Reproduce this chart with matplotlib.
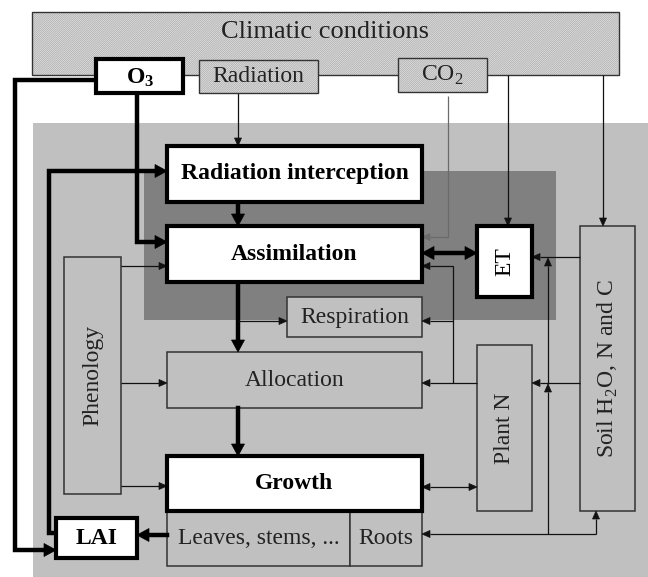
"""Crop-model flow diagram: climate drivers, O3 and the plant carbon/N loop."""
import numpy as np
import matplotlib
matplotlib.use("Agg")
import matplotlib.pyplot as plt
from matplotlib.patches import Rectangle, Polygon

plt.rcParams["font.family"] = ["Liberation Serif", "DejaVu Serif"]
plt.rcParams["mathtext.fontset"] = "custom"
plt.rcParams["mathtext.rm"] = "Liberation Serif"
plt.rcParams["mathtext.bf"] = "Liberation Serif:bold"
plt.rcParams["hatch.linewidth"] = 0.5

W, H = 648, 577

# boxes: name -> (x0, y0, x1, y1) in pixel units (y down)
BOXES = {
    "climate": (32, 12, 619, 75),
    "o3": (96, 59, 183, 93),
    "radiation": (199, 60, 318, 93),
    "co2": (398, 58, 487, 92),
    "ri": (167, 146, 422, 202),
    "assim": (167, 226, 422, 282),
    "et": (477, 226, 532, 297),
    "soil": (580, 226, 635, 511),
    "phen": (64, 257, 121, 494),
    "resp": (287, 297, 422, 337),
    "alloc": (167, 352, 422, 408),
    "plantn": (477, 345, 532, 511),
    "growth": (167, 456, 422, 511),
    "leaves": (167, 511, 350, 566),
    "roots": (350, 511, 422, 566),
    "lai": (56, 518, 137, 558),
}
HATCHED = ["climate", "radiation", "co2"]
WHITE = ["o3", "ri", "assim", "et", "growth", "lai"]
BOLD_TEXT = ["o3", "ri", "assim", "growth", "lai"]

LABELS = {
    "climate": ("Climatic conditions", 19, 0),
    "o3": (r"$\mathbf{O_3}$", 17, 0),
    "radiation": ("Radiation", 17, 0),
    "co2": (r"CO$_2$", 17, 0),
    "ri": ("Radiation interception", 17, 0),
    "assim": ("Assimilation", 17, 0),
    "et": ("ET", 17, 90),
    "soil": (r"Soil H$_2$O, N and C", 17, 90),
    "phen": ("Phenology", 17, 90),
    "resp": ("Respiration", 17, 0),
    "alloc": ("Allocation", 17, 0),
    "plantn": ("Plant N", 17, 90),
    "growth": ("Growth", 17, 0),
    "leaves": ("Leaves, stems, ...", 17, 0),
    "roots": ("Roots", 17, 0),
    "lai": ("LAI", 17, 0),
}
LABEL_POS = {"climate": (325, 32), "o3": (140, 78)}

# connectors: (points, weight, head at end, head at start)
ARROWS = [
    ([(96, 80), (15, 80), (15, 550), (56, 550)], "thick", True, False),
    ([(56, 533), (49, 533), (49, 171), (167, 171)], "thick", True, False),
    ([(137, 93), (137, 242), (167, 242)], "thick", True, False),
    ([(238, 93), (238, 146)], "thin", True, False),
    ([(238, 202), (238, 226)], "thick", True, False),
    ([(238, 282), (238, 352)], "thick", True, False),
    ([(238, 321), (287, 321)], "thin", True, False),
    ([(238, 408), (238, 456)], "thick", True, False),
    ([(121, 266), (167, 266)], "thin", True, False),
    ([(121, 383), (167, 383)], "thin", True, False),
    ([(121, 486), (167, 486)], "thin", True, False),
    ([(448, 96), (448, 237), (422, 237)], "co2", True, False),
    ([(508, 75), (508, 226)], "thin", True, False),
    ([(603, 75), (603, 226)], "thin", True, False),
    ([(422, 253), (477, 253)], "thick", True, True),
    ([(580, 257), (532, 257)], "thin", True, False),
    ([(477, 383), (422, 383)], "thin", True, False),
    ([(453, 383), (453, 266), (422, 266)], "thin", True, False),
    ([(453, 321), (422, 321)], "thin", True, False),
    ([(580, 383), (532, 383)], "thin", True, False),
    ([(422, 487), (477, 487)], "thin", True, True),
    ([(548, 534), (548, 384)], "thin", True, False),
    ([(548, 384), (548, 258)], "thin", True, False),
    ([(596, 534), (422, 534)], "thin", True, False),
    ([(596, 534), (596, 511)], "thin", True, False),
    ([(167, 535), (137, 535)], "thick", True, False),
]
STYLE = {
    "thick": dict(lw=3.2, color="black", hl=12, hw=6.5),
    "thin": dict(lw=0.9, color="#111111", hl=8, hw=3.5),
    "co2": dict(lw=0.9, color="#6a6a6a", hl=8, hw=3.5),
}


def head(ax, tip, prev, st):
    d = np.subtract(tip, prev).astype(float)
    d /= np.hypot(*d)
    n = np.array([-d[1], d[0]])
    base = np.array(tip) - st["hl"] * d
    tri = [tip, base + st["hw"] * n, base - st["hw"] * n]
    ax.add_patch(Polygon(tri, closed=True, fc=st["color"], ec=st["color"],
                         lw=0.5, zorder=6))
    return base


def connector(ax, pts, kind, at_end, at_start):
    st = STYLE[kind]
    pts = [np.array(p, float) for p in pts]
    if at_end:
        pts[-1] = head(ax, pts[-1], pts[-2], st)
    if at_start:
        pts[0] = head(ax, pts[0], pts[1], st)
    xs, ys = zip(*pts)
    ax.plot(xs, ys, color=st["color"], lw=st["lw"], solid_capstyle="projecting"
            if kind == "thick" else "butt", solid_joinstyle="miter", zorder=5)


fig = plt.figure(figsize=(W / 100, H / 100), dpi=100)
ax = fig.add_axes([0, 0, 1, 1])
ax.set_xlim(0, W)
ax.set_ylim(H, 0)
ax.axis("off")

# background panels
ax.add_patch(Rectangle((33, 123), W - 33, H - 123, fc="#c0c0c0", ec="none", zorder=0))
ax.add_patch(Rectangle((144, 171), 556 - 144, 320 - 171, fc="#808080", ec="none", zorder=1))

for name, (x0, y0, x1, y1) in BOXES.items():
    z = 7 if name in ("o3", "radiation", "co2") else 3
    if name in HATCHED:
        ax.add_patch(Rectangle((x0, y0), x1 - x0, y1 - y0, fc="#e4e4e4",
                               ec="#a8a8a8", lw=0, hatch="/" * 16, zorder=z))
        ax.add_patch(Rectangle((x0, y0), x1 - x0, y1 - y0, fill=False,
                               ec="#333333", lw=1.0, zorder=z))
    elif name in WHITE:
        ax.add_patch(Rectangle((x0, y0), x1 - x0, y1 - y0, fc="white",
                               ec="black", lw=3.0, joinstyle="miter", zorder=z + 4))
    else:
        ax.add_patch(Rectangle((x0, y0), x1 - x0, y1 - y0, fc="#c0c0c0",
                               ec="#333333", lw=1.1, zorder=z))
    text, size, rot = LABELS[name]
    cx, cy = LABEL_POS.get(name, ((x0 + x1) / 2, (y0 + y1) / 2))
    weight = "bold" if name in BOLD_TEXT else "normal"
    color = "black" if name in WHITE else "#222222"
    ax.text(cx, cy, text, fontsize=size, rotation=rot, ha="center", va="center",
            fontweight=weight, color=color, zorder=z + 5)

for pts, kind, at_end, at_start in ARROWS:
    connector(ax, pts, kind, at_end, at_start)

fig.savefig("out.png", dpi=100)
